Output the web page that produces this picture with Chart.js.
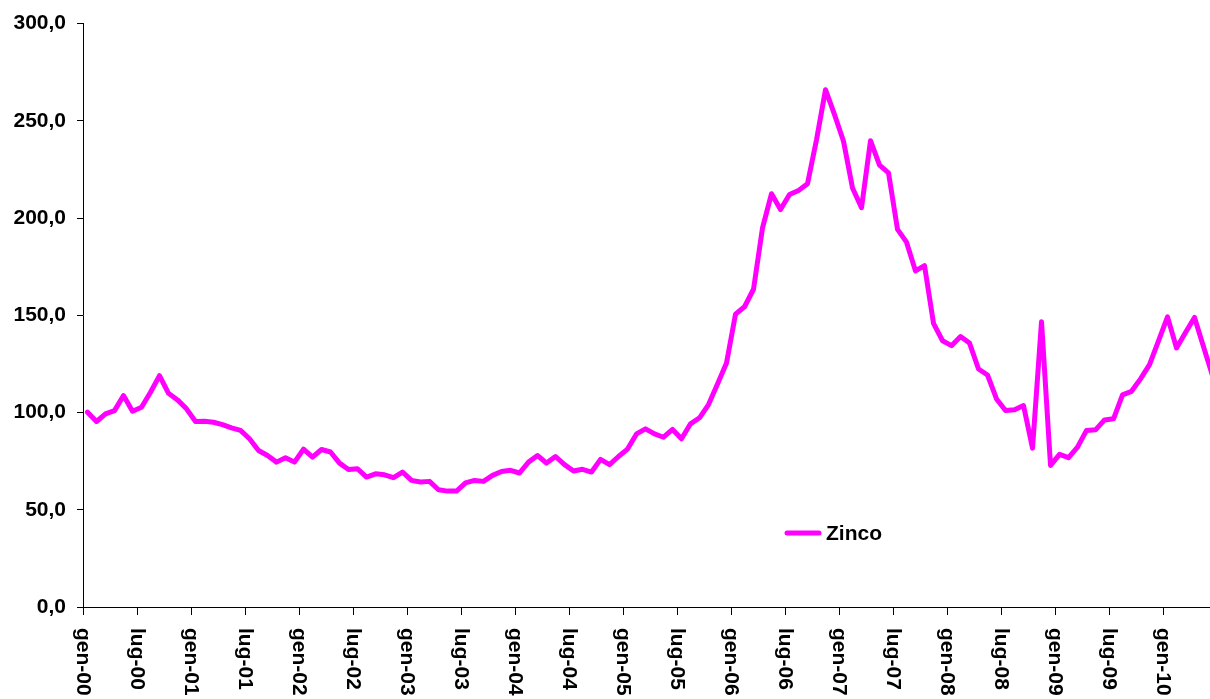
<!DOCTYPE html>
<html>
<head>
<meta charset="utf-8">
<script src="https://cdn.jsdelivr.net/npm/chart.js@4"></script>
<style>
  body { margin: 0; background: #fff; }
  #wrap { width: 1210px; height: 699px; position: relative; }
</style>
</head>
<body>
<div id="wrap"><canvas id="zinco-chart"></canvas></div>
<script>
// Tick labels, one every six months
const tickLabels = ['gen-00', 'lug-00', 'gen-01', 'lug-01', 'gen-02', 'lug-02', 'gen-03', 'lug-03',
    'gen-04', 'lug-04', 'gen-05', 'lug-05', 'gen-06', 'lug-06', 'gen-07', 'lug-07',
    'gen-08', 'lug-08', 'gen-09', 'lug-09', 'gen-10'];

const seriesName = 'Zinco';

// Monthly values, gen-00 .. giu-10
const zinco = [
    100.2, 95.4, 99.3, 101.0, 108.7, 100.7, 102.7, 110.4, 119.0, 109.9, 106.5, 101.9,
    95.4, 95.5, 95.0, 93.8, 92.1, 90.8, 86.5, 80.5, 77.9, 74.5, 76.8, 74.5,
    81.2, 77.1, 81.0, 79.7, 74.0, 70.7, 71.1, 66.8, 68.5, 68.0, 66.5, 69.4,
    65.1, 64.3, 64.6, 60.3, 59.6, 59.6, 63.8, 65.1, 64.6, 67.7, 69.7, 70.3,
    68.9, 74.5, 77.9, 74.0, 77.4, 73.2, 69.9, 70.8, 69.4, 75.9, 73.2, 77.4,
    81.2, 89.0, 91.6, 89.0, 87.3, 91.3, 86.5, 94.2, 97.3, 104.1, 114.7, 125.5,
    150.6, 154.4, 163.4, 195.0, 212.5, 204.4, 212.1, 214.2, 217.6, 240.3, 266.0, 253.2,
    239.5, 215.5, 205.3, 239.8, 227.2, 223.2, 194.2, 187.6, 172.8, 175.5, 145.8, 136.9,
    134.4, 139.1, 135.7, 122.4, 119.3, 107.0, 101.0, 101.4, 103.6, 81.7, 146.7, 72.8,
    78.5, 76.8, 82.2, 90.8, 91.1, 96.2, 96.8, 109.1, 110.9, 117.3, 124.6, 136.9,
    149.2, 133.2, 141.2, 148.9, 133.8, 119.0
];

const FONT = '"Liberation Sans", Arial, sans-serif';
const MAGENTA = '#ff00ff';

// draws rotated month labels and the legend
const extraText = {
    id: 'extraText',
    afterDraw(chart) {
        const ctx = chart.ctx;
        const x = chart.scales.x;
        ctx.save();
        ctx.fillStyle = '#000';
        ctx.font = 'bold 21px ' + FONT;
        ctx.textAlign = 'left';
        ctx.textBaseline = 'middle';
        tickLabels.forEach((lab, k) => {
            const px = x.getPixelForValue(-0.5 + 6 * k);
            ctx.save();
            ctx.translate(px, chart.chartArea.bottom + 21);
            ctx.rotate(Math.PI / 2);
            ctx.fillText(lab, 0, 0);
            ctx.restore();
        });

        // legend
        ctx.strokeStyle = MAGENTA;
        ctx.lineWidth = 5;
        ctx.lineCap = 'round';
        ctx.beginPath();
        ctx.moveTo(787, 533);
        ctx.lineTo(819, 533);
        ctx.stroke();
        ctx.fillText(seriesName, 826, 534);
        ctx.restore();
    }
};

new Chart(document.getElementById('zinco-chart'), {
    type: 'line',
    data: {
        datasets: [{
            label: seriesName,
            data: zinco.map((v, i) => ({ x: i, y: v })),
            borderColor: MAGENTA,
            borderWidth: 5,
            borderJoinStyle: 'round',
            borderCapStyle: 'round',
            pointRadius: 0,
            tension: 0,
            fill: false
        }]
    },
    options: {
        responsive: true,
        maintainAspectRatio: false,
        animation: false,
        layout: { padding: { top: 22, right: 0, left: 0, bottom: 0 } },
        plugins: {
            legend: { display: false },
            tooltip: { enabled: false }
        },
        scales: {
            x: {
                type: 'linear',
                min: -0.5,
                max: 124.72,
                afterBuildTicks: s => {
                    s.ticks = tickLabels.map((l, k) => ({ value: -0.5 + 6 * k }));
                },
                afterFit: s => { s.height = 92; },
                ticks: { display: false },
                grid: { drawOnChartArea: false, tickLength: 8, color: '#000', lineWidth: 1 },
                border: { display: true, color: '#000', width: 1 }
            },
            y: {
                min: 0,
                max: 300,
                afterFit: s => { s.width = 83; },
                ticks: {
                    stepSize: 50,
                    padding: 11,
                    color: '#000',
                    font: { family: FONT, size: 21, weight: 'bold' },
                    callback: v => v.toFixed(1).replace('.', ',')
                },
                grid: { drawOnChartArea: false, tickLength: 6, color: '#000', lineWidth: 1 },
                border: { display: true, color: '#000', width: 1 }
            }
        }
    },
    plugins: [extraText]
});
</script>
</body>
</html>
